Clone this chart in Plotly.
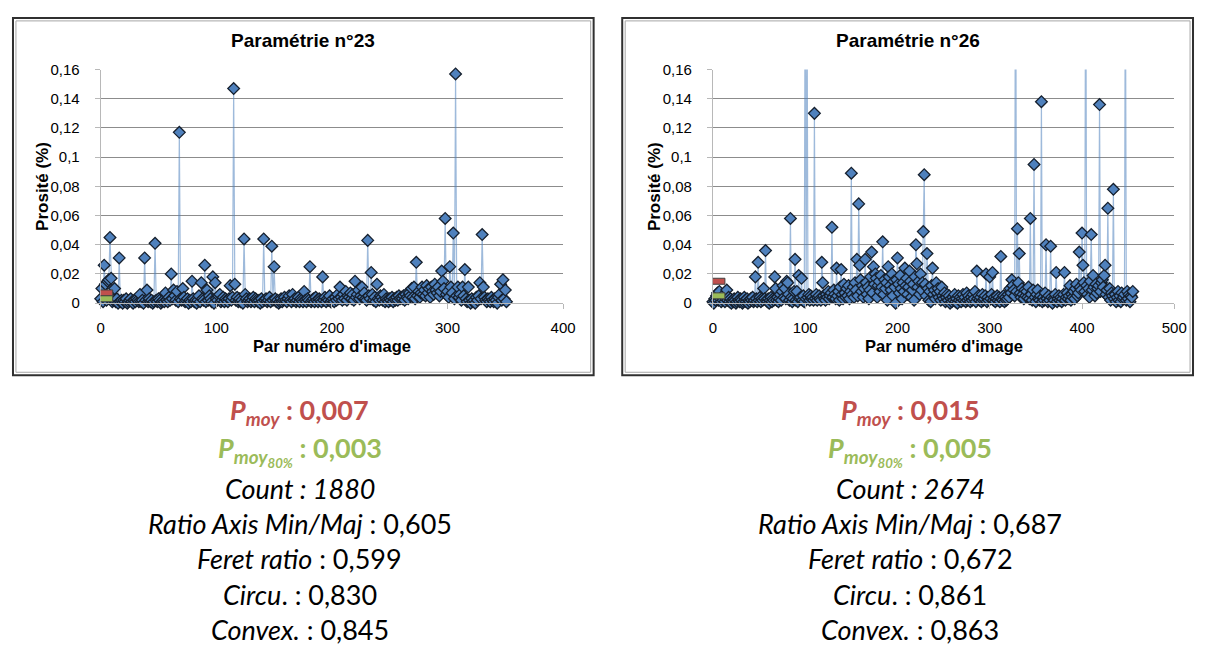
import plotly.graph_objects as go

# ---------------- data ----------------
por_23 = [
    .003, .010, .001, .026, .013, .002, .015, .016, .045, .017,
    .001, .002, .010, .001, .003, .000, .031, .001, .002, .000,
    .002, .001, .003, .000, .001, .002, .003, .001, .000, .002,
    .001, .003, .002, .001, .006, .001, .002, .000, .031, .002,
    .009, .001, .003, .001, .002, .000, .001, .041, .002, .001,
    .003, .002, .000, .001, .002, .001, .007, .002, .001, .004,
    .002, .020, .003, .009, .005, .002, .008, .001, .117, .003,
    .002, .010, .004, .001, .002, .003, .000, .002, .001, .015,
    .003, .001, .002, .000, .002, .005, .001, .014, .003, .002,
    .026, .001, .009, .002, .005, .003, .001, .018, .000, .014,
    .003, .002, .005, .006, .001, .002, .004, .001, .003, .002,
    .001, .003, .012, .002, .004, .147, .013, .002, .004, .001,
    .003, .001, .002, .000, .044, .006, .003, .001, .002, .003,
    .001, .002, .004, .001, .003, .002, .001, .002, .000, .003,
    .001, .044, .002, .003, .001, .002, .004, .001, .039, .002,
    .025, .003, .001, .002, .000, .001, .003, .001, .002, .004,
    .002, .001, .003, .005, .002, .001, .006, .002, .003, .001,
    .002, .004, .001, .003, .002, .001, .008, .002, .001, .003,
    .002, .025, .001, .002, .003, .001, .004, .002, .001, .003,
    .002, .001, .018, .002, .004, .001, .003, .002, .005, .001,
    .002, .003, .001, .004, .002, .006, .003, .011, .004, .002,
    .006, .003, .008, .002, .005, .004, .007, .003, .006, .002,
    .015, .004, .006, .009, .003, .005, .011, .004, .007, .003,
    .002, .043, .005, .003, .021, .006, .002, .004, .001, .013,
    .003, .002, .005, .004, .002, .006, .001, .003, .002, .001,
    .003, .002, .004, .001, .003, .002, .004, .002, .005, .003,
    .004, .003, .005, .002, .006, .004, .003, .007, .005, .010,
    .004, .011, .003, .028, .005, .008, .004, .007, .011, .006,
    .009, .005, .012, .007, .010, .004, .011, .008, .006, .013,
    .009, .007, .011, .005, .008, .022, .015, .010, .058, .006,
    .008, .004, .025, .011, .007, .048, .003, .157, .005, .011,
    .004, .006, .002, .011, .005, .023, .003, .001, .011, .002,
    .000, .003, .001, .002, .000, .004, .002, .005, .014, .003,
    .047, .011, .004, .002, .001, .003, .002, .001, .004, .002,
    .001, .003, .002, .000, .004, .006, .013, .002, .016, .003,
    .009, .001,
]

por_26 = [
    .001, .000, .003, .002, .005, .007, .002, .008, .003, .001,
    .004, .002, .006, .001, .003, .009, .002, .004, .001, .003,
    .000, .002, .001, .003, .002, .000, .001, .004, .002, .001,
    .003, .002, .000, .001, .004, .002, .001, .003, .000, .002,
    .001, .003, .002, .004, .001, .002, .018, .003, .001, .028,
    .002, .004, .001, .003, .002, .010, .003, .036, .002, .001,
    .003, .000, .002, .004, .001, .003, .002, .018, .010, .002,
    .004, .001, .003, .006, .002, .008, .012, .004, .010, .003,
    .015, .014, .006, .002, .058, .004, .001, .003, .008, .030,
    .002, .008, .001, .019, .003, .004, .017, .002, .005, .001,
    .250, .003, .220, .004, .006, .002, .005, .003, .004, .002,
    .130, .003, .006, .002, .004, .005, .003, .002, .028, .014,
    .005, .003, .002, .006, .004, .008, .003, .005, .007, .052,
    .004, .009, .006, .003, .024, .005, .008, .002, .011, .023,
    .006, .003, .013, .007, .004, .010, .005, .012, .003, .008,
    .089, .006, .011, .004, .014, .009, .030, .005, .068, .026,
    .016, .008, .012, .004, .010, .030, .014, .006, .011, .003,
    .009, .018, .035, .007, .025, .013, .020, .017, .004, .012,
    .015, .008, .019, .011, .042, .006, .016, .010, .014, .002,
    .025, .018, .012, .009, .020, .005, .015, .011, .000, .016,
    .031, .013, .007, .019, .010, .003, .014, .008, .024, .012,
    .017, .006, .011, .022, .015, .004, .009, .013, .002, .018,
    .040, .027, .011, .015, .006, .020, .009, .014, .049, .088,
    .013, .005, .034, .010, .002, .008, .001, .012, .024, .006,
    .009, .003, .014, .007, .010, .004, .008, .002, .011, .005,
    .003, .007, .001, .004, .006, .002, .005, .000, .003, .001,
    .004, .002, .006, .001, .003, .000, .005, .002, .004, .001,
    .003, .006, .002, .004, .001, .007, .002, .005, .003, .001,
    .004, .002, .006, .003, .008, .001, .022, .003, .005, .002,
    .004, .001, .006, .002, .003, .005, .020, .001, .004, .002,
    .018, .003, .006, .021, .002, .004, .001, .003, .005, .002,
    .004, .001, .032, .003, .002, .005, .001, .004, .002, .003,
    .006, .004, .010, .007, .016, .012, .009, .005, .300, .008,
    .051, .014, .034, .007, .004, .010, .006, .003, .009, .005,
    .008, .004, .011, .003, .058, .006, .002, .009, .095, .004,
    .001, .006, .009, .003, .002, .005, .138, .001, .004, .002,
    .007, .040, .003, .001, .005, .002, .039, .004, .000, .003,
    .002, .006, .021, .001, .003, .005, .002, .004, .001, .003,
    .006, .021, .002, .004, .007, .003, .005, .012, .002, .006,
    .004, .008, .003, .010, .013, .005, .007, .035, .011, .009,
    .048, .026, .014, .008, .280, .012, .006, .010, .004, .015,
    .047, .009, .019, .011, .005, .013, .007, .010, .012, .136,
    .008, .014, .016, .011, .019, .026, .006, .009, .065, .004,
    .010, .002, .007, .005, .078, .003, .006, .001, .004, .008,
    .002, .005, .001, .007, .003, .004, .006, .250, .002, .008,
    .003, .006, .001, .005, .004, .008,
]

titles = ["Paramétrie n°23", "Paramétrie n°26"]
x_max = [400, 500]
y_tickvals = [0, 0.02, 0.04, 0.06, 0.08, 0.10, 0.12, 0.14, 0.16]
y_ticktext = ["0", "0,02", "0,04", "0,06", "0,08", "0,1", "0,12", "0,14", "0,16"]
x_tickvals = [[0, 100, 200, 300, 400], [0, 100, 200, 300, 400, 500]]

p_moy = [0.007, 0.015]
p_moy_txt = ["0,007", "0,015"]
p_moy80 = [0.003, 0.005]
p_moy80_txt = ["0,003", "0,005"]
counts = ["1880", "2674"]
ratio_axis = ["0,605", "0,687"]
feret = ["0,599", "0,672"]
circu = ["0,830", "0,861"]
convex = ["0,845", "0,863"]

# ---------------- layout helpers ----------------
# the page body keeps its default 8px margin, so the figure is drawn
# 8px in from the window edges and sized to fit exactly inside it
OFF = 8
FW, FH = 1215 - 2 * OFF, 653 - 2 * OFF
Y_MAX = 0.16
RED = "#C0504D"
GREEN = "#9BBB59"
FONT = "Liberation Sans, Arial"


def px(x):
    return (x - OFF) / FW


def py(y):
    return 1 - (y - OFF) / FH


fig = go.Figure()

series = [por_23, por_26]
plot_x = [(98, 567), (719, 1187)]
boxes = [(9, 598), (627, 1206)]
text_cx = [300, 919]

for i, vals in enumerate(series):
    xa = "x" if i == 0 else "x2"
    ya = "y" if i == 0 else "y2"
    xs = list(range(len(vals)))
    fig.add_trace(go.Scatter(
        x=xs, y=vals, mode="lines", xaxis=xa, yaxis=ya,
        line=dict(color="rgba(79,129,189,0.55)", width=1.2),
        hoverinfo="skip", showlegend=False,
    ))
    shown = [v if v <= Y_MAX else None for v in vals]
    fig.add_trace(go.Scatter(
        x=xs, y=shown, mode="markers", xaxis=xa, yaxis=ya,
        marker=dict(symbol="diamond", size=9, color="#4F81BD",
                    line=dict(color="#16202e", width=1.3)),
        cliponaxis=False, showlegend=False,
    ))

axis_common = dict(showgrid=False, zeroline=False, showline=True,
                   linecolor="#b8b8b8", linewidth=1,
                   ticks="outside", ticklen=5, tickcolor="#b8b8b8",
                   tickfont=dict(family=FONT, size=15, color="#000"))

for i in range(2):
    x0, x1 = plot_x[i]
    xkey = "xaxis" if i == 0 else "xaxis2"
    ykey = "yaxis" if i == 0 else "yaxis2"
    fig.layout[xkey] = dict(
        axis_common, domain=[px(x0), px(x1)], range=[0, x_max[i]],
        tickvals=x_tickvals[i], anchor="y" if i == 0 else "y2",
        ticklabelstandoff=6,
    )
    fig.layout[ykey] = dict(
        axis_common, domain=[py(302), py(62)], range=[0, Y_MAX],
        tickvals=y_tickvals, ticktext=y_ticktext,
        showgrid=True, gridcolor="#8c8c8c", gridwidth=1,
        anchor="x" if i == 0 else "x2", ticklabelstandoff=12,
    )

shapes = []
annotations = []
for i in range(2):
    bx0, bx1 = boxes[i]
    shapes.append(dict(type="rect", xref="paper", yref="paper",
                       x0=px(bx0), x1=px(bx1), y0=py(376), y1=py(9),
                       line=dict(color="#303030", width=2), layer="below"))
    shapes.append(dict(type="rect", xref="paper", yref="paper",
                       x0=px(bx0 + 3), x1=px(bx1 - 3), y0=py(373), y1=py(12),
                       line=dict(color="#a6a6a6", width=1), layer="below"))
    xr = "x" if i == 0 else "x2"
    yr = "y" if i == 0 else "y2"
    for val, col in ((p_moy[i], RED), (p_moy80[i], GREEN)):
        shapes.append(dict(type="rect", xref=xr, yref=yr,
                           xsizemode="pixel", xanchor=0, x0=-10, x1=12,
                           ysizemode="pixel", yanchor=val, y0=-3, y1=3,
                           fillcolor=col, line=dict(color="#404040", width=1),
                           layer="above"))
    x0, x1 = plot_x[i]
    # chart title
    annotations.append(dict(xref="paper", yref="paper", x=px((bx0 + bx1) / 2),
                            y=py(32), text="<b>%s</b>" % titles[i], showarrow=False,
                            xanchor="center", yanchor="middle",
                            font=dict(family=FONT, size=19, color="#000")))
    # axis titles
    annotations.append(dict(xref="paper", yref="paper", x=px((x0 + x1) / 2),
                            y=py(346), text="<b>Par numéro d'image</b>", showarrow=False,
                            xanchor="center", yanchor="middle",
                            font=dict(family=FONT, size=16.5, color="#000")))
    annotations.append(dict(xref="paper", yref="paper", x=px(x0 - 59),
                            y=py(182), text="<b>Prosité (%)</b>", showarrow=False,
                            textangle=-90, xanchor="center", yanchor="middle",
                            font=dict(family=FONT, size=17, color="#000")))
    # statistics text
    cx = text_cx[i]
    lines = [
        (413, "<span style='color:%s'><b><i>P<sub>moy</sub></i> : %s</b></span>" % (RED, p_moy_txt[i])),
        (454, "<span style='color:%s'><b><i>P<sub>moy<sub>80%%</sub></sub></i> : %s</b></span>" % (GREEN, p_moy80_txt[i])),
        (492, "<i>Count : %s</i>" % counts[i]),
        (528, "<i>Ratio Axis Min/Maj</i> : %s" % ratio_axis[i]),
        (564, "<i>Feret ratio</i> : %s" % feret[i]),
        (601, "<i>Circu</i>. : %s" % circu[i]),
        (637, "<i>Convex.</i> : %s" % convex[i]),
    ]
    for yy, txt in lines:
        annotations.append(dict(xref="paper", yref="paper", x=px(cx), y=py(yy),
                                text=txt, showarrow=False, xanchor="center",
                                yanchor="middle",
                                font=dict(family="Lato", size=27, color="#000")))

fig.update_layout(
    width=FW, height=FH, margin=dict(l=0, r=0, t=0, b=0),
    paper_bgcolor="white", plot_bgcolor="white",
    shapes=shapes, annotations=annotations, showlegend=False,
)

fig.write_html("out.html", config={"displayModeBar": False})
